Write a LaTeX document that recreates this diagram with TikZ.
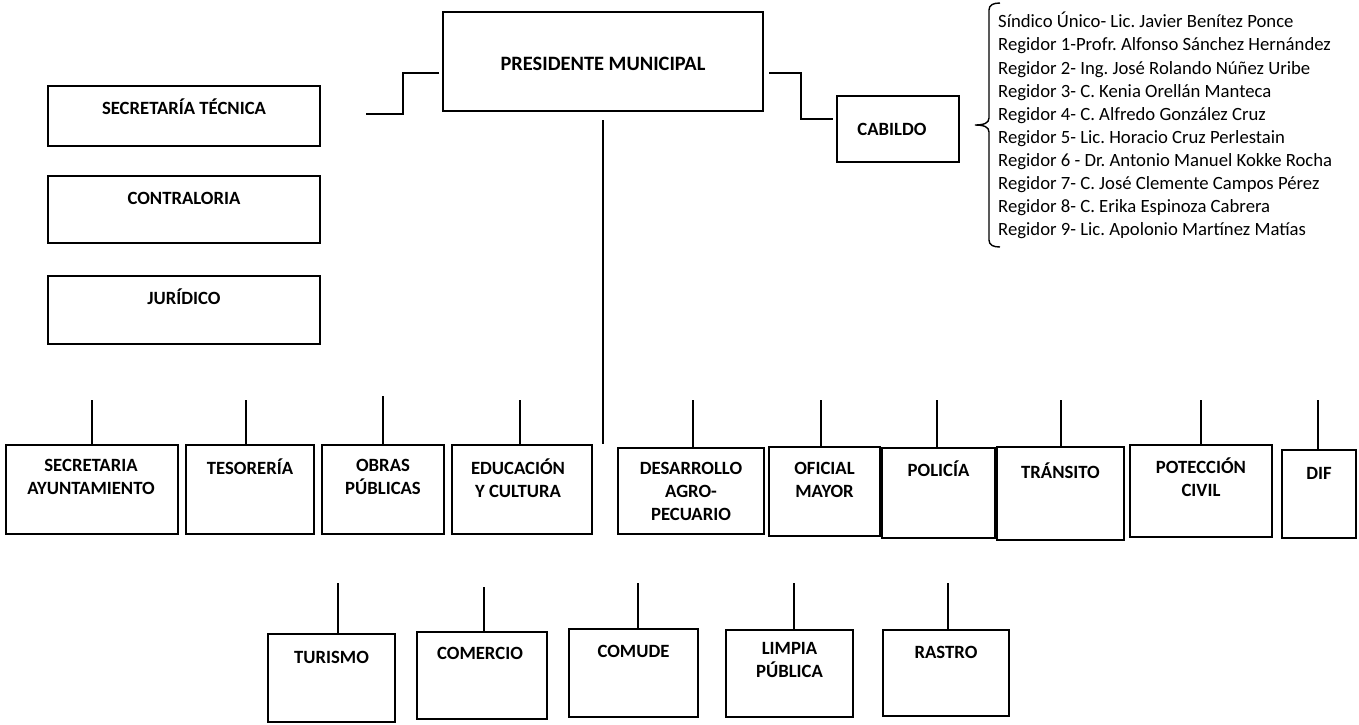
\documentclass[tikz,border=0pt]{standalone}
\usepackage{fontspec}
\setmainfont{Carlito}
\usetikzlibrary{calc}
\frenchspacing
\tikzset{
  box/.style={draw, line width=2pt, inner sep=0pt},
  conn/.style={line width=1.5pt},
  lbl/.style={font=\bfseries\fontsize{18.7}{23}\selectfont, align=center, inner sep=0pt, anchor=north, execute at begin node=\strut},
  biglbl/.style={font=\bfseries\fontsize{20.4}{25}\selectfont, align=center, inner sep=0pt, anchor=north, execute at begin node=\strut},
  listtxt/.style={font=\fontsize{18.7}{23.1}\selectfont, align=left, inner sep=0pt, anchor=north west, execute at begin node=\strut\frenchspacing}
}
\begin{document}
\begin{tikzpicture}[x=1pt,y=-1pt]
\useasboundingbox (0,0) rectangle (1359,724);

% top boxes
\node[box, minimum width=320, minimum height=99] (pres) at (603,61.5) {};
\node[biglbl] (pres-t) at (603,53) {PRESIDENTE MUNICIPAL};
\node[box, minimum width=272, minimum height=60] (sectec) at (184,116) {};
\node[lbl] (sectec-t) at (184,97.9) {SECRETARÍA TÉCNICA};
\node[box, minimum width=272, minimum height=67] (contra) at (184,209.5) {};
\node[lbl] (contra-t) at (184,187.9) {CONTRALORIA};
\node[box, minimum width=272, minimum height=68] (juri) at (184,310) {};
\node[lbl] (juri-t) at (184,287.9) {JURÍDICO};
\node[box, minimum width=122, minimum height=66] (cab) at (898,129) {};
\node[lbl] (cab-t) at (892,118.9) {CABILDO};

% connectors from president
\coordinate (lc) at (366,114);
\coordinate (rc) at (833,119);
\draw[conn] ($(pres.west)+(-3,11.5)$) -| ($(lc)+(37,0)$) -- (lc);
\draw[conn] ($(pres.east)+(5,11.5)$) -| ($(rc)+(-32,0)$) -- (rc);
\coordinate (ptop) at (603,120);
\coordinate (pbot) at (603,444);
\draw[conn] (ptop) -- (pbot);

% brace and list
\draw[line width=1.4pt] (1000,3) .. controls (993,3) and (989,5) .. (989,10) -- (989,118)
  .. controls (989,123) and (984,125) .. (975,125)
  .. controls (984,125) and (989,127) .. (989,132) -- (989,240)
  .. controls (989,245) and (993,247) .. (1000,247);
\node[listtxt] (lista) at (998,12) {Síndico Único- Lic. Javier Benítez Ponce\\
Regidor 1-Profr. Alfonso Sánchez Hernández\\
Regidor 2- Ing. José Rolando Núñez Uribe\\
Regidor 3- C. Kenia Orellán Manteca\\
Regidor 4- C. Alfredo González Cruz\\
Regidor 5- Lic. Horacio Cruz Perlestain\\
Regidor 6 - Dr. Antonio Manuel Kokke Rocha\\
Regidor 7- C. José Clemente Campos Pérez\\
Regidor 8- C. Erika Espinoza Cabrera\\
Regidor 9- Lic. Apolonio Martínez Matías};

% middle row
\node[box, minimum width=172, minimum height=89] (secay) at (92,489.5) {};
\node[lbl] (secay-t) at (91,458.9) {SECRETARIA\\AYUNTAMIENTO};
\node[box, minimum width=128, minimum height=89] (teso) at (250,489.5) {};
\node[lbl] (teso-t) at (250,457.9) {TESORERÍA};
\node[box, minimum width=122, minimum height=89] (obras) at (383,489.5) {};
\node[lbl] (obras-t) at (383,458.9) {OBRAS\\PÚBLICAS};
\node[box, minimum width=140, minimum height=89] (educ) at (522,489.5) {};
\node[lbl] (educ-t) at (518,458.9) {EDUCACIÓN\\Y CULTURA};
\node[box, minimum width=146, minimum height=86] (desa) at (691,491) {};
\node[lbl] (desa-t) at (691,461.9) {DESARROLLO\\AGRO-\\PECUARIO};
\node[box, minimum width=111, minimum height=89] (ofi) at (824.5,491.5) {};
\node[lbl] (ofi-t) at (824.5,461.9) {OFICIAL\\MAYOR};
\node[box, minimum width=113, minimum height=90] (poli) at (938.5,493) {};
\node[lbl] (poli-t) at (938.5,459.9) {POLICÍA};
\node[box, minimum width=127, minimum height=93] (tran) at (1060.5,493.5) {};
\node[lbl] (tran-t) at (1060.5,461.9) {TRÁNSITO};
\node[box, minimum width=142, minimum height=92] (pote) at (1201,491) {};
\node[lbl] (pote-t) at (1201,457.9) {POTECCIÓN\\CIVIL};
\node[box, minimum width=74, minimum height=88] (dif) at (1319,494) {};
\node[lbl] (dif-t) at (1319,462.9) {DIF};

\foreach \n/\x/\y in {secay/92/400, teso/246/400, obras/383/396, educ/520/400, desa/693/400,
  ofi/821/400, poli/937/400, tran/1061/400, pote/1201/400, dif/1318/400}{
  \coordinate (top-\n) at (\x,\y);
  \draw[conn] (top-\n) -- (top-\n |- \n.north);
}

% bottom row
\node[box, minimum width=127, minimum height=88] (turi) at (331.5,678) {};
\node[lbl] (turi-t) at (331.5,646.9) {TURISMO};
\node[box, minimum width=130, minimum height=87] (come) at (482,675.5) {};
\node[lbl] (come-t) at (480,642.9) {COMERCIO};
\node[box, minimum width=129, minimum height=88] (comu) at (633.5,673) {};
\node[lbl] (comu-t) at (633.5,640.9) {COMUDE};
\node[box, minimum width=127, minimum height=87] (limp) at (789.5,673.5) {};
\node[lbl] (limp-t) at (789.5,641.9) {LIMPIA\\PÚBLICA};
\node[box, minimum width=126, minimum height=86] (rast) at (946,673) {};
\node[lbl] (rast-t) at (946,641.9) {RASTRO};

\foreach \n/\x/\y in {turi/338/583, come/484/587, comu/638/583, limp/794/583, rast/948/583}{
  \coordinate (top-\n) at (\x,\y);
  \draw[conn] (top-\n) -- (top-\n |- \n.north);
}
\end{tikzpicture}
\end{document}
